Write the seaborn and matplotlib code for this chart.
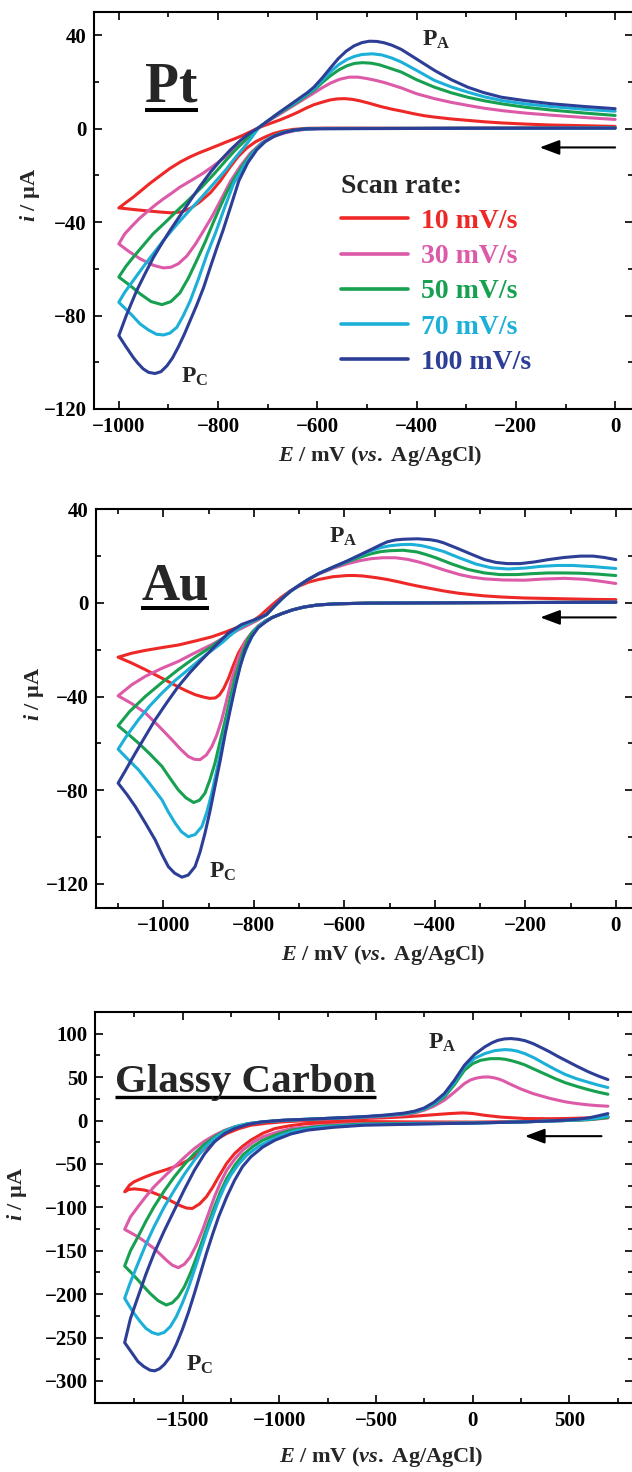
import matplotlib
matplotlib.use("Agg")
import pandas as pd
import seaborn as sns
from matplotlib import pyplot as plt
from matplotlib.ticker import MultipleLocator

# scan rates and colours
rates = ["10 mV/s", "30 mV/s", "50 mV/s", "70 mV/s", "100 mV/s"]
colors = ["#EE2826", "#DC5AA8", "#16A050", "#1CB0D8", "#2C3E96"]

# ---- Pt electrode: (E / mV, i / uA), cathodic sweep then anodic sweep ----
pt_10 = [(0, 0.4), (-200, 0.3), (-400, 0.2), (-580, 0.3), (-620, 0.2), (-650, -0.3), (-670, -1),
         (-688, -2), (-705, -3.5), (-724, -5.5), (-742, -8.2), (-760, -12), (-778, -17), (-795, -22.2),
         (-815, -27.3), (-836, -31.2), (-855, -34), (-874, -35.6), (-895, -36), (-920, -35.6),
         (-960, -34.8), (-1000, -33.9),
         (-985, -31.5), (-971, -29.3), (-955, -26.5), (-938, -23.5), (-918, -20.3), (-897, -17),
         (-876, -14.2), (-856, -12), (-838, -10.3), (-820, -8.8), (-800, -7.1), (-784, -5.7),
         (-767, -4.3), (-751, -2.9), (-735, -1.3), (-718, 0.5), (-700, 1.9), (-674, 3.9), (-657, 5.4),
         (-640, 7), (-623, 8.8), (-607, 10.3), (-590, 11.4), (-575, 12.3), (-560, 12.8), (-545, 12.9),
         (-530, 12.6), (-515, 12), (-495, 10.9), (-472, 9.5), (-450, 8.4), (-431, 7.6), (-405, 6.4),
         (-385, 5.6), (-364, 5.0), (-330, 4.2), (-297, 3.6), (-264, 3), (-229, 2.5), (-180, 2),
         (-128, 1.6), (-60, 1.3), (0, 1.0)]
pt_30 = [(0, 0.3), (-300, 0.2), (-590, 0.1), (-620, -0.2), (-645, -0.8), (-668, -1.9), (-690, -3.5),
         (-712, -6), (-735, -10.5), (-755, -16), (-775, -22.5), (-795, -30.7), (-812, -37.5),
         (-829, -43.6), (-846, -49.5), (-863, -54.5), (-880, -57.8), (-895, -59.3), (-910, -59.6),
         (-930, -58.5), (-957, -55.7), (-980, -52.5), (-1000, -49.3),
         (-988, -45), (-975, -42), (-958, -38.3), (-940, -35), (-925, -32.4), (-910, -30), (-893, -27.5),
         (-877, -25), (-853, -22), (-830, -19), (-810, -16), (-790, -12.8), (-770, -9.3), (-750, -6),
         (-734, -2.8), (-718, 0.5), (-700, 3.2), (-674, 6.5), (-640, 11), (-607, 15.3), (-590, 17.6),
         (-573, 19.6), (-555, 21.2), (-536, 22.1), (-518, 22.1), (-500, 21.5), (-482, 20.7),
         (-465, 19.8), (-431, 17.5), (-400, 15), (-364, 12.9), (-330, 11.3), (-297, 10), (-264, 8.8),
         (-229, 7.8), (-180, 6.7), (-128, 5.8), (-60, 4.8), (0, 4.0)]
pt_50 = [(0, 0.3), (-300, 0.2), (-600, 0.1), (-630, -0.2), (-655, -0.9), (-675, -2), (-695, -3.9),
         (-712, -6.3), (-730, -10), (-748, -15), (-765, -20.5), (-782, -27), (-796, -33.5),
         (-809, -39.8), (-826, -48.5), (-843, -56.4), (-860, -64), (-877, -70.3), (-895, -74),
         (-913, -75.3), (-935, -74), (-957, -70.7), (-978, -67), (-1000, -63.5),
         (-986, -59), (-971, -55), (-951, -50), (-931, -45), (-906, -40), (-882, -35), (-857, -30),
         (-833, -25), (-808, -19.3), (-784, -13.5), (-766, -9.3), (-750, -5.8), (-734, -2.6),
         (-718, 0.5), (-700, 3.3), (-674, 7), (-640, 11.5), (-607, 16.5), (-590, 19.8), (-573, 22.8),
         (-556, 25.3), (-540, 27), (-525, 28), (-509, 28.3), (-492, 28.1), (-475, 27.4), (-455, 26),
         (-431, 24.3), (-400, 21), (-364, 17.8), (-330, 15.4), (-297, 13.5), (-264, 12), (-229, 10.7),
         (-180, 9.2), (-128, 8), (-60, 6.7), (0, 5.7)]
pt_70 = [(0, 0.3), (-300, 0.2), (-600, 0.1), (-630, -0.2), (-655, -0.9), (-675, -2), (-695, -3.8),
         (-712, -6.5), (-730, -10.5), (-748, -16), (-769, -23.6), (-789, -35), (-805, -44.5),
         (-822, -53.6), (-839, -64), (-856, -73.6), (-870, -80), (-883, -85), (-897, -87.5),
         (-910, -88.3), (-924, -88), (-940, -86.2), (-957, -83.6), (-975, -79.5), (-1000, -74.3),
         (-988, -70), (-971, -65), (-951, -59.2), (-931, -53.6), (-907, -47), (-882, -40.7),
         (-857, -34.8), (-833, -29.3), (-808, -23.3), (-784, -17.5), (-765, -12.3), (-750, -8.5),
         (-735, -4.5), (-718, 0.5), (-700, 3.4), (-674, 7.3), (-640, 12), (-607, 17), (-590, 20.8),
         (-573, 24.5), (-556, 27.6), (-540, 29.7), (-525, 31), (-510, 31.8), (-489, 32.1), (-470, 31.6),
         (-450, 30.3), (-431, 28.6), (-400, 25), (-364, 20.7), (-330, 17.9), (-297, 15.7), (-264, 13.7),
         (-229, 12.1), (-180, 10.6), (-128, 9.5), (-60, 8.3), (0, 7.5)]
pt_100 = [(0, 0.3), (-300, 0.2), (-588, 0), (-620, 0), (-645, -0.5), (-665, -1.5), (-685, -3),
          (-705, -5.5), (-722, -9), (-740, -14.5), (-758, -22.2), (-775, -33.6), (-790, -43.5),
          (-802, -50.7), (-816, -59.5), (-829, -67.9), (-843, -75.5), (-856, -82), (-868, -88),
          (-880, -93.4), (-892, -98.2), (-903, -101.5), (-915, -104), (-927, -104.8), (-940, -104.3),
          (-951, -102.8), (-962, -100.3), (-971, -97.9), (-985, -93.5), (-1000, -88.6),
          (-985, -80), (-964, -69.3), (-947, -62), (-930, -55), (-913, -49), (-897, -43.6), (-876, -37),
          (-856, -30.7), (-836, -24.5), (-815, -18.5), (-795, -13.5), (-775, -9), (-755, -5),
          (-737, -2), (-718, 0.5), (-700, 3.3), (-680, 6.5), (-660, 9.5), (-640, 12.5), (-620, 15.5),
          (-607, 17.8), (-590, 21.8), (-573, 26.2), (-558, 30), (-542, 33.2), (-526, 35.5),
          (-510, 36.9), (-495, 37.5), (-480, 37.4), (-465, 36.8), (-450, 35.8), (-431, 34),
          (-410, 31.2), (-390, 28.5), (-364, 25), (-330, 21), (-297, 17.8), (-265, 15.5), (-229, 13.5),
          (-180, 12), (-128, 10.7), (-60, 9.5), (0, 8.6)]

# ---- Au electrode ----
au_10 = [(0, 0.3), (-300, 0.1), (-550, -0.1), (-620, -0.4), (-660, -0.9), (-690, -1.8), (-715, -3),
         (-740, -4.7), (-760, -6.3), (-775, -7.8), (-790, -9.8), (-804, -12.8), (-819, -16.5),
         (-834, -21.4), (-845, -26.5), (-856, -32.2), (-867, -36.7), (-876, -39.3), (-885, -40.6),
         (-897, -40.8), (-910, -40.3), (-930, -39.2), (-950, -37.5), (-967, -35.9), (-1000, -32.5),
         (-1040, -28.5), (-1070, -25.7), (-1100, -23.2),
         (-1070, -21.5), (-1040, -20.3), (-1000, -19), (-967, -18), (-930, -16.3), (-893, -14.5),
         (-865, -12.6), (-834, -10.3), (-815, -8.8), (-799, -7.3), (-785, -5.3), (-772, -3),
         (-758, -0.6), (-740, 2.3), (-719, 5.2), (-700, 7.2), (-680, 8.8), (-657, 10), (-625, 11.2),
         (-594, 11.7), (-576, 11.7), (-559, 11.5), (-530, 10.8), (-505, 10), (-480, 9), (-460, 8.1),
         (-438, 7.2), (-416, 6.4), (-380, 5.1), (-350, 4.2), (-327, 3.7), (-290, 3), (-250, 2.5),
         (-202, 2.1), (-150, 1.9), (-100, 1.7), (-50, 1.5), (0, 1.4)]
au_30 = [(0, 0.3), (-300, 0.1), (-550, -0.1), (-620, -0.4), (-660, -0.9), (-690, -1.8), (-715, -3),
         (-740, -4.7), (-760, -6.3), (-775, -7.8), (-790, -10.2), (-805, -12.8), (-819, -16.5),
         (-834, -23.5), (-849, -32.8), (-860, -41.5), (-871, -49.9), (-882, -56.5), (-893, -61.4),
         (-905, -65), (-919, -67), (-932, -66.8), (-945, -65.6), (-962, -62.5), (-981, -58.5),
         (-1010, -52.7), (-1040, -47), (-1070, -43), (-1100, -39.7),
         (-1070, -35), (-1040, -31.4), (-1005, -28.1), (-967, -25), (-930, -21.3), (-893, -17.8),
         (-863, -14.5), (-834, -11.5), (-810, -9.2), (-790, -7.2), (-772, -5), (-755, -1.5),
         (-738, 1.8), (-719, 5), (-700, 7.5), (-680, 10), (-657, 12.3), (-625, 14.8), (-594, 16.7),
         (-567, 18), (-541, 18.9), (-515, 19.3), (-487, 19.3), (-460, 18.6), (-438, 17.6),
         (-416, 16.4), (-380, 14.1), (-345, 12.1), (-318, 11), (-291, 10.3), (-250, 9.8), (-202, 9.7),
         (-160, 10.2), (-113, 10.5), (-70, 10.1), (-35, 9.3), (0, 8.3)]
au_50 = [(0, 0.3), (-300, 0.1), (-550, -0.1), (-620, -0.4), (-660, -0.9), (-690, -1.8), (-715, -3),
         (-740, -4.7), (-760, -6.3), (-775, -7.8), (-790, -10), (-800, -11.8), (-812, -15),
         (-826, -22), (-841, -31.4), (-852, -40.5), (-863, -49.9), (-875, -59.5), (-886, -68.5),
         (-897, -75.5), (-908, -81.3), (-920, -84.3), (-933, -85.3), (-950, -83.3), (-967, -79.9),
         (-985, -75), (-1003, -69.9), (-1030, -64.5), (-1055, -59.9), (-1080, -55.7), (-1100, -52.5),
         (-1075, -46.5), (-1040, -40), (-1003, -34), (-967, -28.5), (-930, -23.3), (-893, -18.6),
         (-866, -14.8), (-841, -11.6), (-815, -9), (-792, -7), (-772, -5), (-755, -1.5), (-738, 1.8),
         (-719, 5), (-700, 7.5), (-680, 10), (-657, 12.5), (-625, 15.2), (-594, 17.5), (-567, 19.4),
         (-541, 21), (-520, 21.9), (-500, 22.3), (-470, 22.5), (-440, 21.8), (-420, 20.7),
         (-398, 19.3), (-362, 16.6), (-327, 14.3), (-290, 12.8), (-256, 12.1), (-220, 12.1),
         (-185, 12.5), (-150, 12.8), (-113, 12.8), (-80, 12.7), (-40, 12.3), (0, 11.7)]
au_70 = [(0, 0.3), (-300, 0.1), (-550, -0.1), (-620, -0.4), (-660, -0.9), (-690, -1.8), (-715, -3),
         (-740, -4.7), (-760, -6.3), (-775, -7.8), (-786, -9.5), (-797, -11.6), (-812, -17.5),
         (-827, -24.5), (-838, -32.5), (-849, -41.4), (-860, -51.5), (-871, -61.4), (-882, -71.5),
         (-893, -81.3), (-904, -89.5), (-915, -95.6), (-930, -99), (-945, -99.9), (-960, -97.8),
         (-974, -94.1), (-990, -89), (-1003, -84.2), (-1030, -77.3), (-1055, -71.3), (-1080, -66.5),
         (-1100, -62.5),
         (-1080, -56.5), (-1055, -49.9), (-1030, -44), (-1003, -38.5), (-975, -33.3), (-945, -28.5),
         (-908, -22.5), (-871, -17.1), (-848, -13.2), (-827, -10), (-800, -7.5), (-786, -6.3),
         (-772, -5), (-755, -1.5), (-738, 1.8), (-719, 5), (-700, 7.5), (-680, 10), (-657, 12.5),
         (-625, 15.3), (-594, 17.8), (-567, 20.2), (-541, 22.3), (-520, 23.6), (-500, 24.4),
         (-475, 24.9), (-452, 25), (-430, 24.5), (-410, 23.6), (-381, 22), (-345, 19.2), (-309, 16.6),
         (-275, 15), (-238, 14.5), (-200, 14.9), (-167, 15.6), (-130, 16), (-95, 16), (-50, 15.5),
         (0, 14.7)]
au_100 = [(0, 0.3), (-300, 0.1), (-550, -0.1), (-620, -0.4), (-660, -0.9), (-690, -1.8), (-715, -3),
          (-740, -4.7), (-760, -6.3), (-775, -8.3), (-790, -10.5), (-805, -14.5), (-819, -20),
          (-830, -27), (-841, -35.7), (-852, -45.5), (-863, -55.6), (-874, -67), (-886, -78.5),
          (-897, -89), (-908, -98.4), (-919, -106.5), (-930, -112.7), (-945, -116.3), (-959, -117.2),
          (-975, -115.5), (-989, -112.7), (-1003, -107.5), (-1018, -101.3), (-1040, -94), (-1062, -87),
          (-1080, -82), (-1100, -77),
          (-1085, -72), (-1062, -64.2), (-1040, -57), (-1018, -49.9), (-992, -42.5), (-967, -35.7),
          (-941, -29.7), (-915, -24.3), (-885, -18.3), (-856, -12.8), (-827, -9.2), (-800, -7.3),
          (-786, -6.2), (-772, -5), (-755, -1.5), (-738, 1.8), (-719, 5), (-700, 7.5), (-680, 10),
          (-657, 12.5), (-625, 15.3), (-594, 17.9), (-567, 20.4), (-541, 22.8), (-520, 24.8),
          (-505, 26.1), (-487, 26.9), (-470, 27.2), (-438, 27.4), (-410, 27), (-395, 26.5),
          (-381, 25.7), (-350, 23.3), (-318, 20.7), (-290, 18.5), (-265, 17.3), (-240, 16.8),
          (-211, 16.8), (-180, 17.5), (-149, 18.5), (-115, 19.4), (-78, 20), (-50, 20), (-25, 19.4),
          (0, 18.5)]

# ---- Glassy carbon electrode (sweep starts at +700 mV) ----
gc_10 = [(700, 4.2), (650, 2.6), (600, 1.5), (540, 0.6), (480, 0), (380, -0.6), (271, -1.2), (0, -1.8),
         (-300, -1.6), (-563, -1.2), (-720, -2.2), (-855, -3.5), (-940, -5.8), (-1022, -9.2),
         (-1085, -14.6), (-1147, -22.6), (-1190, -29.7), (-1231, -38), (-1272, -49.3), (-1314, -64.8),
         (-1345, -77), (-1377, -87.8), (-1412, -96), (-1450, -101.3), (-1480, -100.8), (-1510, -98.3),
         (-1540, -95), (-1580, -90.3), (-1620, -86), (-1660, -82.5), (-1700, -80), (-1750, -78.7),
         (-1780, -79.5), (-1800, -82.1),
         (-1775, -74.5), (-1752, -70.6), (-1700, -65.5), (-1648, -61), (-1595, -57.3), (-1543, -53.3),
         (-1490, -48), (-1439, -41.8), (-1397, -34.5), (-1356, -26.5), (-1314, -20.3), (-1272, -15),
         (-1210, -9.4), (-1147, -5.4), (-1060, -3), (-980, -1.5), (-800, 0.6), (-563, 2.3),
         (-450, 3.2), (-355, 4.2), (-270, 5.5), (-188, 6.9), (-120, 8), (-52, 8.8), (0, 8.1), (63, 6),
         (150, 3.9), (271, 2.3), (400, 2.1), (480, 2.3), (580, 2.9), (650, 3.6), (700, 4.2)]
gc_30 = [(700, 3), (650, 1.9), (600, 1), (480, 0), (271, -1.5), (0, -2.5), (-300, -3), (-563, -3.5),
         (-667, -4.2), (-800, -6.3), (-939, -9.2), (-1010, -13.3), (-1085, -18.8), (-1137, -25.3),
         (-1189, -34.1), (-1230, -44.3), (-1272, -57.2), (-1304, -71.5), (-1335, -87.8), (-1366, -107),
         (-1397, -126.2), (-1428, -143), (-1460, -156.9), (-1491, -165.5), (-1523, -169.5),
         (-1554, -166.5), (-1585, -160.7), (-1617, -153.8), (-1648, -147.3), (-1690, -140.3),
         (-1731, -134), (-1765, -129.7), (-1800, -125.4),
         (-1770, -111), (-1731, -99.3), (-1690, -87.5), (-1648, -76.3), (-1595, -64.5), (-1543, -53.3),
         (-1490, -42.3), (-1439, -32.2), (-1387, -23.8), (-1335, -16.9), (-1283, -11.3), (-1231, -7.3),
         (-1160, -3.6), (-1085, -1.5), (-980, 0), (-800, 1.5), (-563, 3.5), (-450, 4.8), (-355, 6.5),
         (-300, 8.6), (-250, 11.9), (-200, 16.5), (-146, 23.4), (-95, 32.5), (-42, 42.6), (-10, 46.8),
         (20, 48.9), (50, 50), (83, 50.2), (112, 49.2), (140, 47.5), (165, 45.2), (188, 42.6),
         (250, 36.3), (313, 31), (400, 25.5), (480, 21.5), (540, 19.5), (600, 18), (650, 17.1),
         (700, 16.5)]
gc_50 = [(700, 3.5), (650, 2.2), (600, 1), (480, 0), (271, -1.5), (0, -2.8), (-300, -3.4), (-563, -4),
         (-800, -7), (-939, -11.1), (-1010, -16), (-1085, -22.6), (-1137, -30), (-1189, -39.9),
         (-1230, -51.5), (-1272, -66.7), (-1304, -82), (-1335, -99.3), (-1366, -118), (-1397, -137.7),
         (-1428, -157.5), (-1460, -176), (-1491, -191.5), (-1523, -203), (-1554, -210),
         (-1585, -212.5), (-1627, -207.5), (-1669, -199), (-1700, -191.5), (-1731, -183.7),
         (-1765, -175.5), (-1800, -167.6),
         (-1770, -150), (-1731, -133.9), (-1690, -116), (-1648, -99.3), (-1595, -81), (-1543, -64.8),
         (-1490, -50.3), (-1439, -38), (-1387, -27.5), (-1335, -18.8), (-1283, -12), (-1231, -7.3),
         (-1160, -3.6), (-1085, -1.5), (-980, 0.2), (-800, 2), (-563, 4.2), (-450, 5.6), (-355, 7.5),
         (-300, 9.6), (-250, 13), (-200, 18.5), (-146, 27.2), (-95, 41), (-42, 57.9), (0, 65.5),
         (42, 69.4), (90, 71.2), (136, 71.3), (170, 70.5), (200, 69), (235, 66.8), (271, 64),
         (320, 59), (380, 53), (430, 48), (480, 43.5), (540, 39.3), (600, 35.5), (650, 32.7),
         (700, 30.3)]
gc_70 = [(700, 5), (650, 3), (600, 1.5), (480, 0), (271, -1.5), (0, -3), (-300, -3.8), (-563, -4.8),
         (-800, -8), (-918, -11.9), (-990, -17), (-1064, -24.5), (-1115, -31), (-1168, -39.9),
         (-1210, -50), (-1251, -62.9), (-1283, -76), (-1314, -91.7), (-1345, -110.5), (-1377, -130),
         (-1408, -151), (-1439, -172.2), (-1470, -192.5), (-1502, -210.6), (-1533, -226),
         (-1564, -237.4), (-1595, -244), (-1627, -246.3), (-1658, -244.2), (-1690, -239.4),
         (-1720, -231.5), (-1752, -222), (-1775, -214), (-1800, -204.8),
         (-1770, -186), (-1731, -164.6), (-1690, -142.5), (-1648, -122.4), (-1595, -99.5),
         (-1543, -80.2), (-1490, -61.5), (-1439, -45.6), (-1387, -31.5), (-1335, -20.7),
         (-1283, -12.8), (-1231, -7.3), (-1160, -3.6), (-1085, -1.5), (-980, 0.2), (-800, 2),
         (-563, 4.2), (-450, 6), (-355, 8), (-300, 10.2), (-250, 13.5), (-200, 19.5), (-146, 29.2),
         (-95, 43.5), (-42, 61.8), (10, 71.5), (63, 77.1), (115, 80.5), (167, 81.7), (200, 81.2),
         (230, 80), (271, 77), (320, 72), (380, 64.5), (430, 58.5), (480, 53), (540, 48), (600, 44),
         (650, 40.8), (700, 38)]
gc_100 = [(700, 8), (650, 5.4), (600, 3), (540, 1.4), (480, 0.5), (380, -0.6), (271, -1.5), (0, -3),
          (-146, -3.5), (-300, -4.2), (-563, -5.4), (-720, -7.8), (-855, -11.1), (-940, -15.5),
          (-1022, -22.6), (-1085, -30.5), (-1147, -41.8), (-1190, -53), (-1231, -68.7), (-1272, -88),
          (-1314, -111), (-1345, -131), (-1377, -153), (-1408, -176), (-1439, -199), (-1470, -221),
          (-1502, -241), (-1533, -258), (-1564, -272), (-1595, -281), (-1620, -286), (-1645, -288.3),
          (-1669, -287.5), (-1700, -283.5), (-1731, -277.7), (-1755, -270), (-1773, -264.3),
          (-1800, -255.8),
          (-1770, -228), (-1731, -203), (-1690, -177), (-1648, -153), (-1595, -127), (-1543, -103.2),
          (-1490, -79), (-1439, -57.2), (-1387, -38.5), (-1335, -24.5), (-1283, -15), (-1231, -9.2),
          (-1160, -4.3), (-1085, -1.5), (-980, 0.4), (-800, 2), (-563, 4.5), (-450, 6.3), (-355, 8.5),
          (-300, 10.8), (-250, 14.5), (-200, 21), (-146, 31.1), (-95, 46), (-42, 63.7), (10, 76),
          (63, 84.8), (100, 89.5), (130, 92.3), (165, 94), (198, 94.4), (235, 93.6), (271, 92),
          (313, 88.6), (360, 83.5), (400, 79), (440, 74), (480, 69.4), (540, 62.5), (600, 56),
          (650, 51.3), (700, 47.2)]


def to_frame(curves):
    rows = []
    for rate, pts in zip(rates, curves):
        for e, c in pts:
            rows.append((rate, e, c))
    return pd.DataFrame(rows, columns=["rate", "E", "i"])


sns.set_theme(style="ticks")
plt.rcParams.update({
    "font.family": "Liberation Serif",
    "font.weight": "bold",
    "axes.labelweight": "bold",
    "mathtext.fontset": "custom",
    "mathtext.rm": "Liberation Serif:bold",
    "mathtext.it": "Liberation Serif:italic:bold",
    "mathtext.bf": "Liberation Serif:bold",
    "axes.linewidth": 1.5,
    "axes.edgecolor": "black",
})

W, H = 632, 1472
fig = plt.figure(figsize=(W / 100, H / 100), dpi=100)

panels = [
    dict(data=[pt_10, pt_30, pt_50, pt_70, pt_100], box=(93.5, 12, 633, 409),
         xlim=(-1051, 36), ylim=(-120, 50), xt=(200, 100), yt=(40, 20),
         name="Pt", name_size=40, name_pos=(0.0955, 0.774), ul_y=0.7531, ul_w=2.9,
         pa=(-389, 35.7), pc=(-874, -108.7), arrow=((0, -8), (-152, -8)),
         ylab=(-0.118, 0.539), xlab=(0.531, -0.1176)),
    dict(data=[au_10, au_30, au_50, au_70, au_100], box=(95.5, 509.3, 633, 908.3),
         xlim=(-1150, 38), ylim=(-130.5, 40), xt=(200, 100), yt=(40, 20),
         name="Au", name_size=38, name_pos=(0.0847, 0.7727), ul_y=0.7526, ul_w=2.9,
         pa=(-634, 25.8), pc=(-899, -117.5), arrow=((0, -6.2), (-167, -6.2)),
         ylab=(-0.114, 0.537), xlab=(0.535, -0.117)),
    dict(data=[gc_10, gc_30, gc_50, gc_70, gc_100], box=(94.7, 1012, 633, 1403.3),
         xlim=(-1955, 830), ylim=(-325.7, 125), xt=(500, 250), yt=(50, 25),
         name="Glassy Carbon", name_size=29.5, name_pos=(0.0377, 0.7956), ul_y=0.7828, ul_w=2.4,
         pa=(-231, 83), pc=(-1485, -288.5), arrow=((667, -18), (271, -18)),
         ylab=(-0.144, 0.535), xlab=(0.533, -0.1365)),
]

axes = []
for k, p in enumerate(panels):
    x0, y0, x1, y1 = p["box"]
    ax = fig.add_axes([x0 / W, 1 - y1 / H, (x1 - x0) / W, (y1 - y0) / H])
    axes.append(ax)
    df = to_frame(p["data"])
    sns.lineplot(data=df, x="E", y="i", hue="rate", hue_order=rates, palette=colors,
                 sort=False, estimator=None, lw=2.2, ax=ax, legend=(k == 0))

    ax.set_xlim(*p["xlim"])
    ax.set_ylim(*p["ylim"])
    ax.xaxis.set_major_locator(MultipleLocator(p["xt"][0]))
    ax.xaxis.set_minor_locator(MultipleLocator(p["xt"][1]))
    ax.yaxis.set_major_locator(MultipleLocator(p["yt"][0]))
    ax.yaxis.set_minor_locator(MultipleLocator(p["yt"][1]))
    ax.tick_params(which="both", direction="in", top=True, right=True, width=1.2, colors="black")
    ax.tick_params(which="major", length=6)
    ax.tick_params(which="minor", length=3.6)
    ax.tick_params(axis="x", which="major", pad=5.5, labelsize=15)
    ax.tick_params(axis="y", which="major", pad=5, labelsize=15)
    for sp in ax.spines.values():
        sp.set_linewidth(1.5)
        sp.set_color("black")

    ax.set_xlabel(r"$E$ / mV ($\mathit{vs.}$ Ag/AgCl)", fontsize=16)
    ax.set_ylabel(r"$i$ / µA", fontsize=16)
    ax.xaxis.set_label_coords(*p["xlab"])
    ax.yaxis.set_label_coords(*p["ylab"])
    ax.xaxis.label.set_va("center")
    ax.yaxis.label.set_va("center")

    # panel name with underline
    t = ax.text(p["name_pos"][0], p["name_pos"][1], p["name"], transform=ax.transAxes,
                fontsize=p["name_size"], fontweight="bold", ha="left", va="baseline")
    fig.canvas.draw()
    bb = t.get_window_extent().transformed(ax.transAxes.inverted())
    ax.plot([bb.x0, bb.x1], [p["ul_y"], p["ul_y"]], transform=ax.transAxes,
            color="black", lw=p["ul_w"], solid_capstyle="butt")

    # peak labels
    ax.text(*p["pa"], r"P$_{\mathrm{A}}$", fontsize=17, ha="left", va="baseline")
    ax.text(*p["pc"], r"P$_{\mathrm{C}}$", fontsize=17, ha="left", va="baseline")

    # scan direction arrow
    ax.annotate("", xy=p["arrow"][1], xytext=p["arrow"][0],
                arrowprops=dict(arrowstyle="-|>,head_length=0.8,head_width=0.3",
                                color="black", lw=1.5, mutation_scale=15, shrinkA=0, shrinkB=0))

# legend on the Pt panel
ax = axes[0]
handles, labels = ax.get_legend_handles_labels()
for h in handles:
    h.set_linewidth(2.6)
ax.legend(handles, labels, title="Scan rate:", loc="upper left",
          bbox_to_anchor=(0.459, 0.592), frameon=False, borderpad=0, borderaxespad=0,
          handlelength=2.39, handletextpad=0.5, labelspacing=0.35,
          prop={"family": "Liberation Serif", "weight": "bold", "size": 20},
          title_fontproperties={"family": "Liberation Serif", "weight": "bold", "size": 20},
          labelcolor="linecolor", alignment="left")

fig.savefig("out.png", dpi=100)
